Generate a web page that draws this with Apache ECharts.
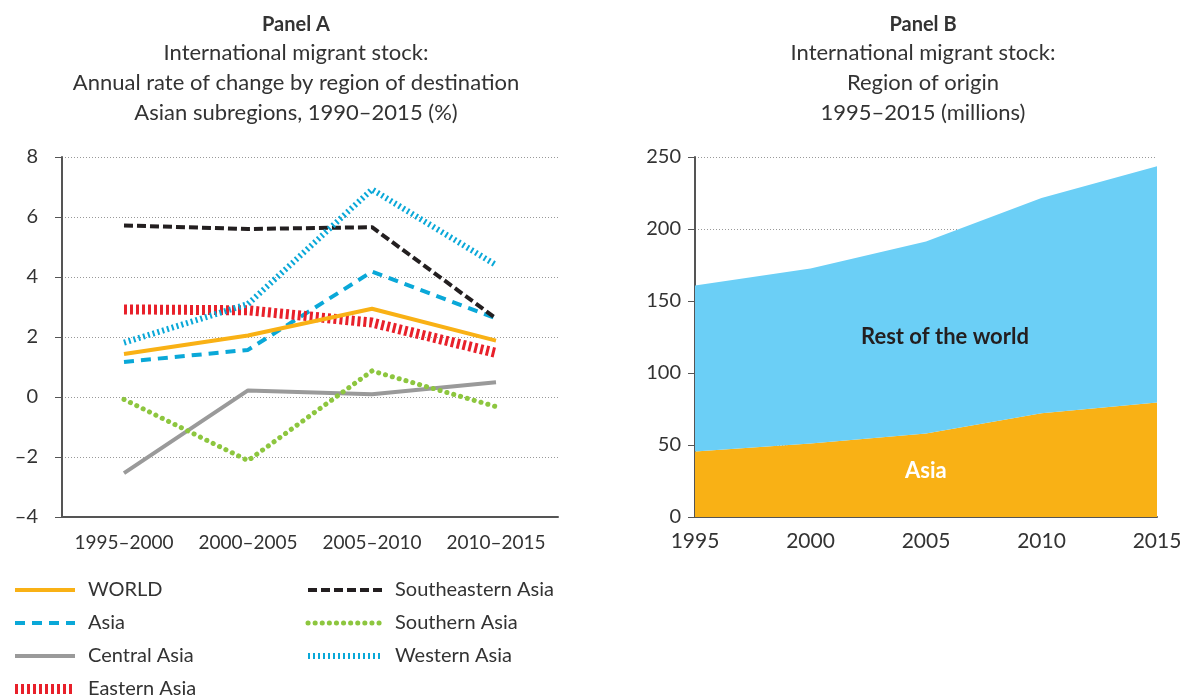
<!DOCTYPE html>
<html>
<head>
<meta charset="utf-8">
<script src="https://cdn.jsdelivr.net/npm/echarts@6/dist/echarts.min.js"></script>
<style>
html, body { margin: 0; padding: 0; background: #fff; }
#chart { width: 1186px; height: 700px; }
</style>
</head>
<body>
<div id="chart"></div>
<script>
// Panel A: annual rate of change (%)
var periods = ['1995\u20132000', '2000\u20132005', '2005\u20132010', '2010\u20132015'];
var world = [1.43, 2.05, 2.94, 1.88];
var asia = [1.17, 1.57, 4.18, 2.62];
var centralAsia = [-2.54, 0.22, 0.09, 0.49];
var easternAsia = [2.92, 2.89, 2.48, 1.47];
var southeasternAsia = [5.72, 5.6, 5.66, 2.62];
var southernAsia = [-0.08, -2.12, 0.87, -0.32];
var westernAsia = [1.81, 3.1, 6.92, 4.4];

// Panel B: migrant stock by region of origin (millions)
var years = ['1995', '2000', '2005', '2010', '2015'];
var asiaOrigin = [45.5, 51, 58, 72, 79.6];
var restOfWorld = [115.2, 121.5, 133.3, 149.5, 163.9];

var font = 'Lato';
var textColor = '#333';

var styles = {
    'WORLD': { color: '#F9B115', width: 4, type: 'solid' },
    'Asia': { color: '#0AA8D8', width: 4, type: [10, 7] },
    'Central Asia': { color: '#9A9A9A', width: 4, type: 'solid' },
    'Eastern Asia': { color: '#E8202A', width: 10, type: [3, 3] },
    'Southeastern Asia': { color: '#231F20', width: 4, type: [9, 4] },
    'Southern Asia': { color: '#8DC63F', width: 5, type: [0.1, 7], cap: 'round' },
    'Western Asia': { color: '#0AA8D8', width: 6, type: [2, 3] }
};

var chart = echarts.init(document.getElementById('chart'));

function lineSeries(name, data, z) {
    return {
        name: name,
        type: 'line',
        xAxisIndex: 0,
        yAxisIndex: 0,
        data: data,
        symbol: 'none',
        itemStyle: { color: styles[name].color },
        lineStyle: styles[name],
        z: z || 2
    };
}

function legendItems(names) {
    return names.map(function (n) {
        return { name: n, lineStyle: styles[n] };
    });
}

var legendBase = {
    orient: 'vertical', top: 580, height: 120, padding: 0, itemHeight: 14, itemGap: 13,
    itemStyle: { opacity: 0 },
    textStyle: { fontFamily: font, fontSize: 20, color: textColor, padding: [0, 0, 0, 8] }
};

var option = {
    animation: false,
    textStyle: { fontFamily: font },
    title: [
        { text: 'Panel A', left: 291, top: 10, textAlign: 'center',
          textStyle: { fontFamily: font, fontSize: 20, fontWeight: 'bold', color: textColor } },
        { text: 'International migrant stock:\nAnnual rate of change by region of destination\nAsian subregions, 1990\u20132015 (%)',
          left: 291, top: 33, textAlign: 'center',
          textStyle: { fontFamily: font, fontSize: 22, fontWeight: 'normal', color: textColor, lineHeight: 30 } },
        { text: 'Panel B', left: 918, top: 10, textAlign: 'center',
          textStyle: { fontFamily: font, fontSize: 20, fontWeight: 'bold', color: textColor } },
        { text: 'International migrant stock:\nRegion of origin\n1995\u20132015 (millions)',
          left: 918, top: 33, textAlign: 'center',
          textStyle: { fontFamily: font, fontSize: 22, fontWeight: 'normal', color: textColor, lineHeight: 30 } }
    ],
    legend: [
        Object.assign({}, legendBase, { left: 10, itemWidth: 60,
            data: legendItems(['WORLD', 'Asia', 'Central Asia', 'Eastern Asia']) }),
        Object.assign({}, legendBase, { left: 305, itemWidth: 74,
            data: legendItems(['Southeastern Asia', 'Southern Asia', 'Western Asia']) })
    ],
    grid: [
        { left: 62, top: 157, width: 496, height: 360 },
        { left: 695, top: 157, width: 462, height: 360 }
    ],
    xAxis: [
        { type: 'category', gridIndex: 0, data: periods, boundaryGap: true,
          axisLine: { onZero: false, lineStyle: { color: '#555', width: 2 } },
          axisTick: { show: false },
          axisLabel: { fontFamily: font, fontSize: 19, color: textColor, margin: 16, interval: 0 } },
        { type: 'category', gridIndex: 1, data: years, boundaryGap: false,
          axisLine: { onZero: false, lineStyle: { color: '#555', width: 2 } },
          axisTick: { show: false },
          axisLabel: { fontFamily: font, fontSize: 21, color: textColor, margin: 14, interval: 0 } }
    ],
    yAxis: [
        { type: 'value', gridIndex: 0, min: -4, max: 8, interval: 2,
          axisLine: { show: true, lineStyle: { color: '#555', width: 2 } },
          axisTick: { show: true, length: 7, lineStyle: { color: '#555' } },
          axisLabel: { fontFamily: font, fontSize: 20, color: textColor, margin: 24,
                       formatter: function (v) { return v < 0 ? '\u2013' + Math.abs(v) : String(v); } },
          splitLine: { lineStyle: { color: '#999', type: [1, 2], width: 1 } } },
        { type: 'value', gridIndex: 1, min: 0, max: 250, interval: 50,
          axisLine: { show: true, lineStyle: { color: '#555', width: 2 } },
          axisTick: { show: true, length: 7, lineStyle: { color: '#555' } },
          axisLabel: { fontFamily: font, fontSize: 20, color: textColor, margin: 14 },
          splitLine: { lineStyle: { color: '#999', type: [1, 2], width: 1 } } }
    ],
    series: [
        lineSeries('WORLD', world, 5),
        lineSeries('Asia', asia),
        lineSeries('Central Asia', centralAsia),
        lineSeries('Eastern Asia', easternAsia),
        lineSeries('Southeastern Asia', southeasternAsia),
        lineSeries('Southern Asia', southernAsia),
        lineSeries('Western Asia', westernAsia),
        { name: 'Asia origin', type: 'line', xAxisIndex: 1, yAxisIndex: 1, stack: 'origin',
          data: asiaOrigin, symbol: 'none', lineStyle: { width: 0 },
          itemStyle: { color: '#F9B115' },
          areaStyle: { color: '#F9B115', opacity: 1 } },
        { name: 'Rest of the world', type: 'line', xAxisIndex: 1, yAxisIndex: 1, stack: 'origin',
          data: restOfWorld, symbol: 'none', lineStyle: { width: 0 },
          itemStyle: { color: '#6BCFF6' },
          areaStyle: { color: '#6BCFF6', opacity: 1 } }
    ],
    graphic: [
        { type: 'text', left: 861, top: 326, z: 100,
          style: { text: 'Rest of the world', fontFamily: font, fontSize: 22, fontWeight: 'bold', fill: '#231F20' } },
        { type: 'text', left: 905, top: 460, z: 100,
          style: { text: 'Asia', fontFamily: font, fontSize: 22, fontWeight: 'bold', fill: '#fff' } }
    ]
};

chart.setOption(option);
</script>
</body>
</html>
